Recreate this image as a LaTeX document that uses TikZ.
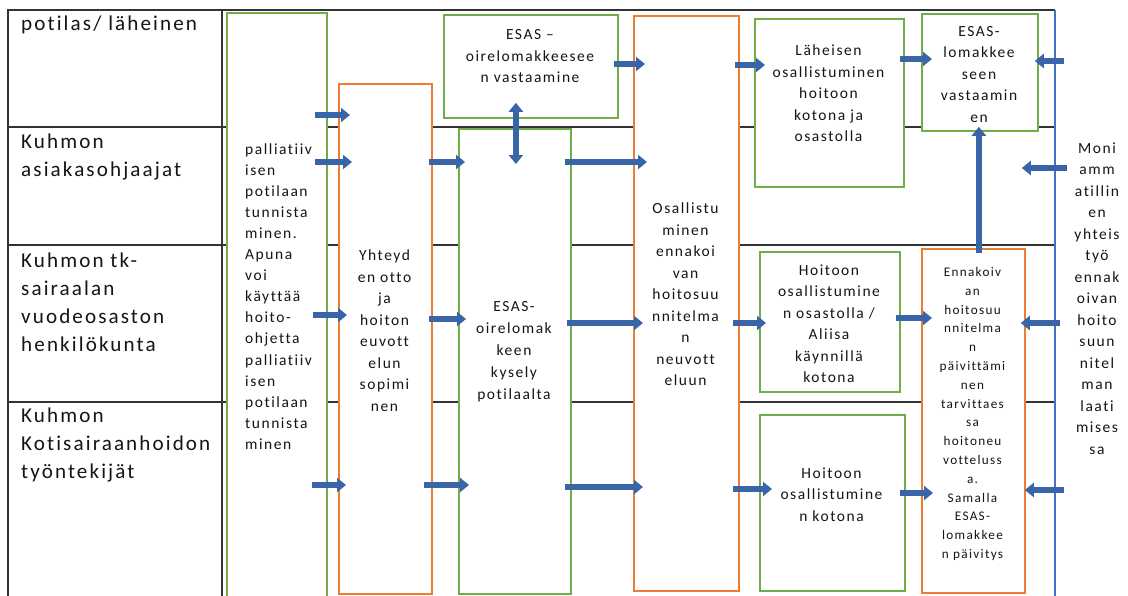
\documentclass[tikz,border=0pt]{standalone}
\usepackage{fontspec}
\setmainfont{Carlito}[LetterSpace=10,Ligatures=NoCommon]
\usetikzlibrary{arrows.meta,calc}
\definecolor{gr}{HTML}{70AD47}
\definecolor{orr}{HTML}{ED7D31}
\definecolor{blline}{HTML}{4472C4}
\definecolor{arr}{HTML}{3A64A8}
\definecolor{txtc}{HTML}{151515}
\definecolor{gridc}{HTML}{333333}
\begin{document}
\begin{tikzpicture}[x=1pt,y=-1pt,
  gbox/.style={draw=gr,line width=1.8pt,fill=white,inner sep=0pt,anchor=north west},
  obox/.style={draw=orr,line width=1.8pt,fill=white,inner sep=0pt,anchor=north west},
  btxt/.style={align=center,inner sep=0pt,text=txtc,font=\fontsize{15.5}{21.5}\selectfont},
  lbl/.style={align=left,inner sep=0pt,anchor=west,text=txtc,font=\fontsize{21.1}{28}\selectfont},
  barrow/.style={draw=arr,line width=5.5pt,-{Triangle[width=14pt,length=9pt]}},
  darrow/.style={draw=arr,line width=5.5pt,{Triangle[width=14pt,length=9pt]}-{Triangle[width=14pt,length=9pt]}},
  gridline/.style={draw=gridc,line width=1.2pt}
]
\useasboundingbox[fill=white] (0,0) rectangle (1128,595);
% table grid
\draw[gridline] (8,600) -- (8,10) -- (1055,10);
\draw[gridline] (222,10) -- (222,600);
\draw[gridline] (8,127) -- (1055,127);
\draw[gridline] (8,245) -- (1055,245);
\draw[gridline] (8,402) -- (1055,402);
\draw[blline,line width=1.8pt] (1055,10) -- (1055,600);
\coordinate (bline) at (1055,10);
% row labels
\node[lbl] (l1) at (21,25) {potilas/ läheinen};
\node[lbl] (l2) at (21,156.5) {Kuhmon\\asiakasohjaajat};
\node[lbl] (l3) at (21,302) {Kuhmon tk-\\sairaalan\\vuodeosaston\\henkilökunta};
\node[lbl] (l4) at (21,445) {Kuhmon\\Kotisairaanhoidon\\työntekijät};
% boxes
\node[gbox,minimum width=100pt,minimum height=585pt] (A) at (226,12) {};
\node[obox,minimum width=93pt,minimum height=510pt] (B) at (338,83) {};
\node[gbox,minimum width=174pt,minimum height=103pt] (C) at (443,14) {};
\node[gbox,minimum width=112pt,minimum height=465pt] (D) at (458,128) {};
\node[obox,minimum width=105pt,minimum height=575pt] (E) at (633,15) {};
\node[gbox,minimum width=149pt,minimum height=168pt] (F) at (754,18) {};
\node[gbox,minimum width=116pt,minimum height=117pt] (G) at (921,13) {};
\node[gbox,minimum width=140pt,minimum height=140pt] (H) at (759,251) {};
\node[gbox,minimum width=145pt,minimum height=176pt] (I) at (759,414) {};
\node[obox,minimum width=103pt,minimum height=344pt] (J) at (921,248) {};
% texts
\node[btxt,align=left,anchor=west,font=\fontsize{15.5}{21.07}\selectfont] (tA) at (245,296.5)
 {palliatiiv\\isen\\potilaan\\tunnista\\minen.\\Apuna\\voi\\käyttää\\hoito-\\ohjetta\\palliatiiv\\isen\\potilaan\\tunnista\\minen};
\node[btxt] (tB) at (384.5,330.5) {Yhteyd\\en otto\\ja\\hoiton\\euvott\\elun\\sopimi\\nen};
\node[btxt] (tC) at (530,56.5) {ESAS –\\oirelomakkeesee\\n vastaamine};
\node[btxt,font=\fontsize{15.5}{22}\selectfont] (tD) at (514,352) {ESAS-\\oirelomak\\keen\\kysely\\potilaalta};
\node[btxt] (tE) at (685.5,294.5) {Osallistu\\minen\\ennakoi\\van\\hoitosuu\\nnitelma\\n\\neuvott\\eluun};
\node[btxt] (tF) at (828.5,93.5) {Läheisen\\osallistuminen\\hoitoon\\kotona ja\\osastolla};
\node[btxt] (tG) at (979,74.5) {ESAS-\\lomakkee\\seen\\vastaamin\\en};
\node[btxt] (tH) at (829,323.5) {Hoitoon\\osallistumine\\n osastolla /\\Aliisa\\käynnillä\\kotona};
\node[btxt] (tI) at (831.5,494.5) {Hoitoon\\osallistumine\\n kotona};
\node[btxt,font=\fontsize{13.2}{18.8}\selectfont] (tJ) at (972.5,414)
 {Ennakoiv\\an\\hoitosuu\\nnitelma\\n\\päivittämi\\nen\\tarvittaes\\sa\\hoitoneu\\votteluss\\a.\\Samalla\\ESAS-\\lomakkee\\n päivitys};
\node[btxt] (tR) at (1097,298.5) {Moni\\amm\\atillin\\en\\yhteis\\työ\\ennak\\oivan\\hoito\\suun\\nitel\\man\\laati\\mises\\sa};
% arrows
\draw[barrow] ($(A.east |- 0,115)+(-13,0)$) -- ($(B.west |- 0,115)+(12,0)$);
\draw[barrow] ($(A.east |- 0,162)+(-13,0)$) -- ($(B.west |- 0,162)+(14,0)$);
\draw[barrow] ($(B.east |- 0,162)+(-4,0)$) -- ($(D.west |- 0,162)+(7,0)$);
\draw[barrow] ($(A.east |- 0,315)+(-15,0)$) -- ($(B.west |- 0,315)+(9,0)$);
\draw[barrow] ($(B.east |- 0,319)+(-4,0)$) -- ($(D.west |- 0,319)+(8,0)$);
\draw[barrow] ($(A.east |- 0,485)+(-16,0)$) -- ($(B.west |- 0,485)+(8,0)$);
\draw[barrow] ($(B.east |- 0,485)+(-9,0)$) -- ($(D.west |- 0,485)+(11,0)$);
\draw[darrow] ($(C.south)+(-15,-16)$) -- ($(D.north)+(1,36)$);
\draw[barrow] ($(C.east |- 0,64)+(-5,0)$) -- ($(E.west |- 0,64)+(12,0)$);
\draw[barrow] ($(D.east |- 0,162)+(-7,0)$) -- ($(E.west |- 0,162)+(14,0)$);
\draw[barrow] ($(D.east |- 0,323)+(-5,0)$) -- ($(E.west |- 0,323)+(10,0)$);
\draw[barrow] ($(D.east |- 0,487)+(-7,0)$) -- ($(E.west |- 0,487)+(10,0)$);
\draw[barrow] ($(E.east |- 0,65)+(-5,0)$) -- ($(F.west |- 0,65)+(11,0)$);
\draw[barrow] ($(E.east |- 0,323)+(-7,0)$) -- ($(H.west |- 0,323)+(7,0)$);
\draw[barrow] ($(E.east |- 0,489)+(-7,0)$) -- ($(I.west |- 0,489)+(13,0)$);
\draw[barrow] ($(F.east |- 0,59)+(-5,0)$) -- ($(G.west |- 0,59)+(11,0)$);
\draw[barrow] ($(H.east |- 0,318)+(-5,0)$) -- ($(J.west |- 0,318)+(11,0)$);
\draw[barrow] ($(I.east |- 0,493)+(-6,0)$) -- ($(J.west |- 0,493)+(12,0)$);
\draw[barrow] ($(J.north)+(5.5,5)$) -- ($(G.south)+(-1,-5)$);
\draw[barrow] ($(bline |- 0,61)+(9,0)$) -- ($(G.east |- 0,61)+(-4,0)$);
\draw[barrow] ($(bline |- 0,168)+(12,0)$) -- ($(J.east |- 0,168)+(-4,0)$);
\draw[barrow] ($(bline |- 0,323)+(5,0)$) -- ($(J.east |- 0,323)+(-5,0)$);
\draw[barrow] ($(bline |- 0,490)+(9,0)$) -- ($(J.east |- 0,490)+(-1,0)$);
\end{tikzpicture}
\end{document}
